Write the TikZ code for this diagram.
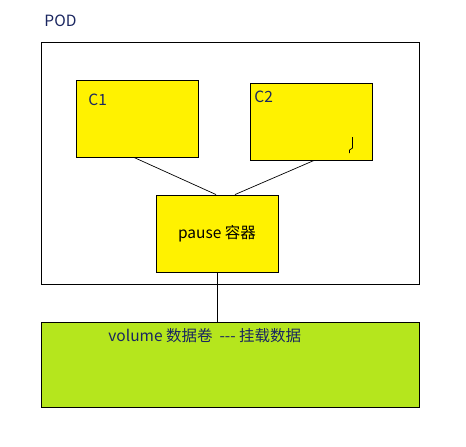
\documentclass[tikz,border=0pt]{standalone}
\usepackage{fontspec}
\setmainfont{Noto Sans CJK SC}
\usetikzlibrary{positioning}
\definecolor{boxyellow}{HTML}{FFF200}
\definecolor{volgreen}{HTML}{B5E61D}
\definecolor{labelblue}{HTML}{1A2660}

\begin{document}
\begin{tikzpicture}[x=1pt,y=-1pt,line width=0.9pt,
  box/.style={draw=black,fill=boxyellow,inner sep=0pt},
  lbl/.style={text=labelblue,font=\fontsize{15.5}{18}\selectfont,inner sep=0pt,anchor=west},
  link/.style={line width=0.7pt}]
\useasboundingbox (0,0) rectangle (466,447);
% ---- pod frame ----
\node[draw=black,fill=white,inner sep=0pt,minimum width=378pt,minimum height=242pt] (pod) at (230,163) {};
\node[lbl] (podlbl) at (44,21) {POD};
% ---- containers ----
\node[box,minimum width=122pt,minimum height=77pt] (c1) at (137,118.5) {};
\node[lbl] (c1lbl) at (88,100) {C1};
\node[box,minimum width=122pt,minimum height=77pt] (c2) at (311,121.5) {};
\node[lbl] (c2lbl) at (254,97) {C2};
\node[box,minimum width=122pt,minimum height=77pt,font=\fontsize{15.5}{18}\selectfont] (pause) at (217,233.5) {pause 容器};
\draw[line width=0.7pt] (352.5,137) -- (352.5,148) -- (349.5,150) -- (349.5,153);
% ---- volume ----
\node[draw=black,fill=volgreen,inner sep=0pt,minimum width=378pt,minimum height=85pt] (vol) at (230.5,364.5) {};
\node[lbl] (vollbl) at (108,336) {volume 数据卷 \ -{}-{}- 挂载数据};
% ---- connectors ----
\draw[link] ([xshift=-3pt]c1.south) -- ([xshift=-1pt]pause.north);
\draw[link] ([xshift=3pt]c2.south) -- ([xshift=18pt]pause.north);
\draw[link] (pause.south) -- (pause.south |- vol.north);
\end{tikzpicture}
\end{document}
